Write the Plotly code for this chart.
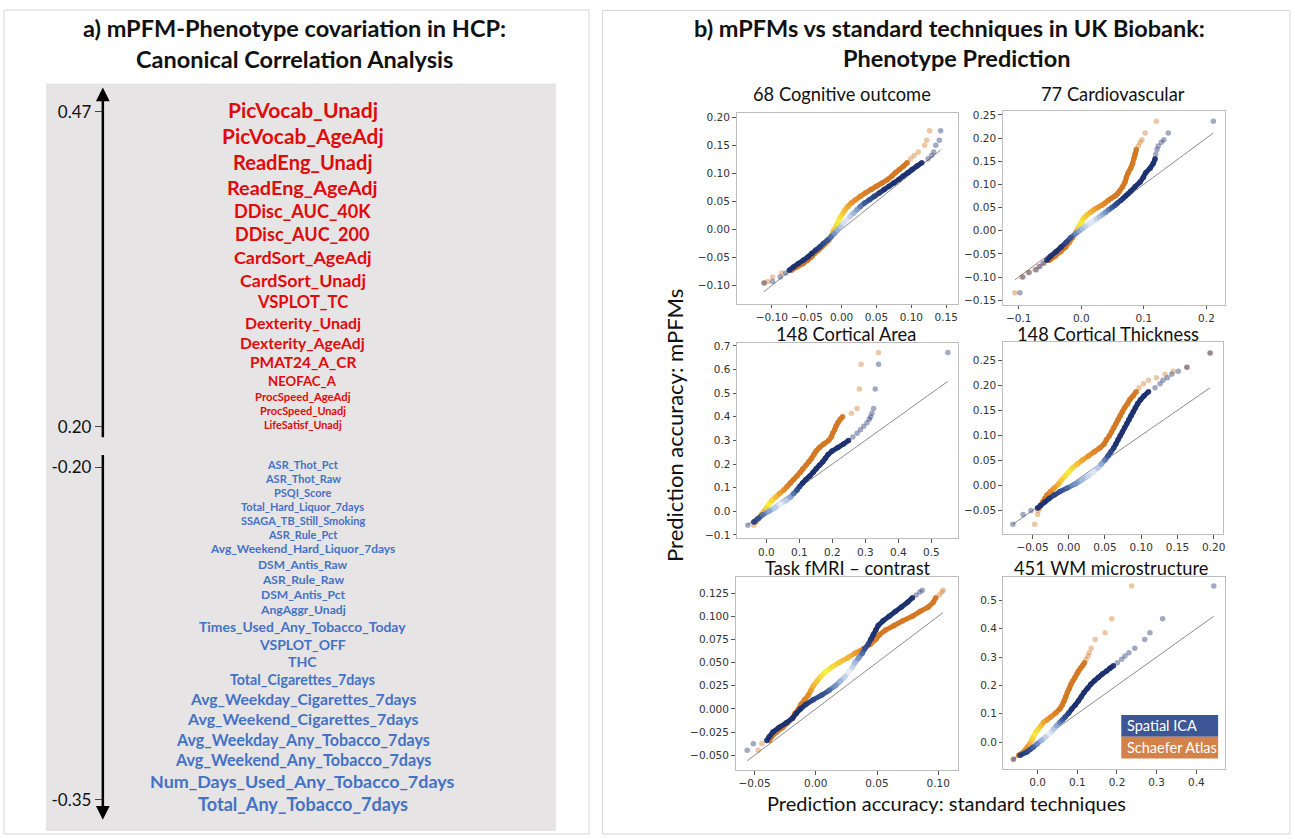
import plotly.graph_objects as go

W, H = 1295, 839

# ---------------- Panel a: CCA phenotype loadings ----------------
pos_names = ["PicVocab_Unadj", "PicVocab_AgeAdj", "ReadEng_Unadj", "ReadEng_AgeAdj",
             "DDisc_AUC_40K", "DDisc_AUC_200", "CardSort_AgeAdj", "CardSort_Unadj",
             "VSPLOT_TC", "Dexterity_Unadj", "Dexterity_AgeAdj", "PMAT24_A_CR",
             "NEOFAC_A", "ProcSpeed_AgeAdj", "ProcSpeed_Unadj", "LifeSatisf_Unadj"]
pos_r = [0.470, 0.465, 0.444, 0.439, 0.393, 0.392, 0.388, 0.387,
         0.354, 0.334, 0.329, 0.323, 0.264, 0.213, 0.205, 0.200]
neg_names = ["ASR_Thot_Pct", "ASR_Thot_Raw", "PSQI_Score", "Total_Hard_Liquor_7days",
             "SSAGA_TB_Still_Smoking", "ASR_Rule_Pct", "Avg_Weekend_Hard_Liquor_7days",
             "DSM_Antis_Raw", "ASR_Rule_Raw", "DSM_Antis_Pct", "AngAggr_Unadj",
             "Times_Used_Any_Tobacco_Today", "VSPLOT_OFF", "THC", "Total_Cigarettes_7days",
             "Avg_Weekday_Cigarettes_7days", "Avg_Weekend_Cigarettes_7days",
             "Avg_Weekday_Any_Tobacco_7days", "Avg_Weekend_Any_Tobacco_7days",
             "Num_Days_Used_Any_Tobacco_7days", "Total_Any_Tobacco_7days"]
neg_r = [-0.200, -0.200, -0.200, -0.200, -0.200, -0.200, -0.221, -0.221, -0.223, -0.223,
         -0.225, -0.263, -0.265, -0.267, -0.269, -0.301, -0.307, -0.309, -0.311, -0.349, -0.353]
pos_ticks = [0.47, 0.20]
neg_ticks = [-0.20, -0.35]

# ---------------- Panel b: QQ of prediction accuracies ----------------
series_names = ["Spatial ICA", "Schaefer Atlas"]
panel_titles = ["68 Cognitive outcome", "77 Cardiovascular", "148 Cortical Area",
                "148 Cortical Thickness", "Task fMRI \u2013 contrast", "451 WM microstructure"]

cog_mpfm = [-0.0957, -0.093, -0.085, -0.078, -0.073, -0.067, -0.061, -0.055, -0.049, -0.043,
            -0.037, -0.031, -0.025, -0.019, -0.013, -0.007, -0.001, 0.005, 0.011, 0.017,
            0.023, 0.029, 0.035, 0.041, 0.047, 0.053, 0.059, 0.065, 0.071, 0.077,
            0.083, 0.089, 0.095, 0.101, 0.107, 0.113, 0.119, 0.126, 0.132, 0.138,
            0.150, 0.159, 0.176]
cog_ica = [-0.1115, -0.099, -0.088, -0.080, -0.075, -0.069, -0.062, -0.055, -0.048, -0.043,
           -0.037, -0.031, -0.026, -0.020, -0.015, -0.010, -0.006, -0.001, 0.003, 0.008,
           0.012, 0.017, 0.022, 0.027, 0.033, 0.040, 0.047, 0.054, 0.061, 0.068,
           0.075, 0.082, 0.088, 0.095, 0.101, 0.108, 0.115, 0.124, 0.129, 0.132,
           0.135, 0.140, 0.142]
cog_schaefer = [-0.1105, -0.106, -0.099, -0.086, -0.072, -0.064, -0.055, -0.049, -0.043, -0.039,
                -0.033, -0.028, -0.023, -0.018, -0.015, -0.013, -0.011, -0.008, -0.006, -0.004,
                -0.001, 0.002, 0.005, 0.009, 0.014, 0.020, 0.027, 0.034, 0.042, 0.050,
                0.058, 0.066, 0.072, 0.077, 0.083, 0.089, 0.094, 0.099, 0.104, 0.110,
                0.119, 0.122, 0.126]

cv_mpfm = [-0.134, -0.100, -0.090, -0.084, -0.077, -0.070, -0.064, -0.055, -0.045, -0.035,
           -0.025, -0.015, -0.005, 0.000, 0.005, 0.010, 0.015, 0.020, 0.025, 0.030,
           0.035, 0.040, 0.045, 0.050, 0.055, 0.060, 0.065, 0.070, 0.075, 0.080,
           0.085, 0.095, 0.105, 0.115, 0.125, 0.135, 0.145, 0.155, 0.165, 0.175,
           0.183, 0.191, 0.196, 0.211, 0.236]
cv_ica = [-0.098, -0.093, -0.083, -0.072, -0.066, -0.061, -0.055, -0.049, -0.040, -0.032,
          -0.024, -0.017, -0.008, -0.003, 0.002, 0.007, 0.013, 0.018, 0.024, 0.029,
          0.034, 0.039, 0.044, 0.049, 0.054, 0.058, 0.063, 0.067, 0.071, 0.075,
          0.079, 0.086, 0.094, 0.099, 0.103, 0.110, 0.115, 0.118, 0.119, 0.121,
          0.123, 0.128, 0.132, 0.139, 0.211]
cv_schaefer = [-0.106, -0.095, -0.085, -0.074, -0.068, -0.059, -0.051, -0.042, -0.033, -0.025,
               -0.019, -0.014, -0.009, -0.007, -0.005, -0.003, -0.001, 0.001, 0.003, 0.006,
               0.010, 0.015, 0.020, 0.026, 0.033, 0.038, 0.043, 0.048, 0.054, 0.058,
               0.061, 0.066, 0.070, 0.072, 0.075, 0.079, 0.082, 0.084, 0.086, 0.088,
               0.091, 0.094, 0.097, 0.102, 0.120]

area_mpfm = [-0.059, -0.045, -0.030, -0.015, 0.000, 0.015, 0.030, 0.045, 0.060, 0.075,
             0.090, 0.105, 0.120, 0.135, 0.150, 0.165, 0.180, 0.195, 0.210, 0.225,
             0.240, 0.255, 0.270, 0.285, 0.300, 0.315, 0.330, 0.345, 0.360, 0.375,
             0.390, 0.400, 0.415, 0.435, 0.518, 0.622, 0.672]
area_ica = [-0.056, -0.038, -0.025, -0.011, 0.008, 0.026, 0.043, 0.060, 0.073, 0.083,
            0.093, 0.101, 0.110, 0.120, 0.132, 0.142, 0.151, 0.161, 0.171, 0.179,
            0.187, 0.199, 0.217, 0.234, 0.249, 0.262, 0.275, 0.285, 0.295, 0.305,
            0.312, 0.316, 0.320, 0.325, 0.330, 0.340, 0.550]
area_schaefer = [-0.038, -0.033, -0.023, -0.015, -0.007, 0.001, 0.008, 0.016, 0.028, 0.040,
                 0.053, 0.063, 0.073, 0.083, 0.093, 0.103, 0.111, 0.120, 0.129, 0.137,
                 0.144, 0.151, 0.161, 0.174, 0.189, 0.197, 0.201, 0.207, 0.211, 0.217,
                 0.224, 0.231, 0.258, 0.275, 0.282, 0.287, 0.340]

thick_mpfm = [-0.077, -0.058, -0.050, -0.045, -0.040, -0.033, -0.026, -0.019, -0.012, -0.005,
              0.003, 0.011, 0.019, 0.027, 0.035, 0.043, 0.051, 0.059, 0.067, 0.075,
              0.083, 0.091, 0.099, 0.107, 0.115, 0.123, 0.131, 0.139, 0.147, 0.155,
              0.163, 0.171, 0.179, 0.187, 0.195, 0.203, 0.210, 0.215, 0.222, 0.228,
              0.236, 0.264]
thick_ica = [-0.077, -0.063, -0.052, -0.043, -0.039, -0.033, -0.027, -0.020, -0.012, -0.002,
             0.009, 0.018, 0.027, 0.034, 0.040, 0.045, 0.050, 0.054, 0.058, 0.062,
             0.065, 0.068, 0.071, 0.074, 0.077, 0.080, 0.083, 0.086, 0.089, 0.092,
             0.095, 0.099, 0.104, 0.110, 0.119, 0.126, 0.130, 0.136, 0.142, 0.151,
             0.163, 0.195]
thick_schaefer = [-0.047, -0.043, -0.042, -0.041, -0.039, -0.036, -0.033, -0.030, -0.025, -0.020,
                  -0.014, -0.010, -0.005, 0.000, 0.005, 0.012, 0.019, 0.027, 0.035, 0.043,
                  0.049, 0.052, 0.056, 0.059, 0.062, 0.065, 0.068, 0.071, 0.074, 0.077,
                  0.081, 0.084, 0.089, 0.093, 0.097, 0.103, 0.110, 0.121, 0.133, 0.144,
                  0.163, 0.195]

task_mpfm = [-0.0446, -0.0375, -0.034, -0.030, -0.025, -0.020, -0.015, -0.010, -0.005, 0.000,
             0.005, 0.010, 0.015, 0.020, 0.025, 0.030, 0.035, 0.040, 0.045, 0.050,
             0.055, 0.060, 0.065, 0.070, 0.075, 0.080, 0.085, 0.090, 0.095, 0.100,
             0.105, 0.110, 0.115, 0.120, 0.123, 0.126, 0.128]
task_ica = [-0.056, -0.051, -0.040, -0.038, -0.035, -0.030, -0.024, -0.019, -0.016, -0.0125,
            -0.008, -0.002, 0.005, 0.011, 0.016, 0.020, 0.024, 0.027, 0.030, 0.032,
            0.035, 0.038, 0.040, 0.043, 0.045, 0.047, 0.049, 0.051, 0.055, 0.060,
            0.065, 0.070, 0.075, 0.079, 0.082, 0.085, 0.087]
task_schaefer = [-0.047, -0.044, -0.038, -0.036, -0.032, -0.027, -0.023, -0.019, -0.017, -0.014,
                 -0.012, -0.009, -0.006, -0.004, -0.002, 0.001, 0.004, 0.008, 0.013, 0.019,
                 0.026, 0.032, 0.039, 0.045, 0.049, 0.052, 0.057, 0.064, 0.071, 0.079,
                 0.085, 0.092, 0.096, 0.098, 0.101, 0.103, 0.104]

wm_mpfm = [-0.061, -0.047, -0.035, -0.026, -0.018, -0.006, 0.006, 0.018, 0.029, 0.038,
           0.047, 0.058, 0.070, 0.079, 0.088, 0.102, 0.117, 0.131, 0.146, 0.160,
           0.175, 0.190, 0.204, 0.216, 0.228, 0.240, 0.251, 0.260, 0.269, 0.280,
           0.292, 0.304, 0.315, 0.331, 0.362, 0.386, 0.435, 0.551]
wm_ica = [-0.061, -0.044, -0.027, -0.019, -0.011, -0.001, 0.010, 0.020, 0.030, 0.036,
          0.041, 0.048, 0.056, 0.063, 0.069, 0.078, 0.086, 0.095, 0.103, 0.110,
          0.117, 0.126, 0.134, 0.143, 0.153, 0.163, 0.174, 0.182, 0.191, 0.201,
          0.212, 0.220, 0.230, 0.245, 0.270, 0.283, 0.315, 0.444]
wm_schaefer = [-0.061, -0.048, -0.036, -0.030, -0.026, -0.020, -0.015, -0.011, -0.007, -0.003,
               0.002, 0.009, 0.015, 0.024, 0.033, 0.045, 0.056, 0.062, 0.067, 0.071,
               0.075, 0.080, 0.084, 0.089, 0.094, 0.099, 0.103, 0.108, 0.113, 0.118,
               0.122, 0.127, 0.130, 0.135, 0.145, 0.170, 0.187, 0.237]

xtick_vals = [[-0.10, -0.05, 0.00, 0.05, 0.10, 0.15], [-0.1, 0.0, 0.1, 0.2],
              [0.0, 0.1, 0.2, 0.3, 0.4, 0.5], [-0.05, 0.00, 0.05, 0.10, 0.15, 0.20],
              [-0.05, 0.00, 0.05, 0.10], [0.0, 0.1, 0.2, 0.3, 0.4]]
ytick_vals = [[-0.10, -0.05, 0.00, 0.05, 0.10, 0.15, 0.20],
              [-0.15, -0.10, -0.05, 0.00, 0.05, 0.10, 0.15, 0.20, 0.25],
              [-0.1, 0.0, 0.1, 0.2, 0.3, 0.4, 0.5, 0.6, 0.7],
              [-0.05, 0.00, 0.05, 0.10, 0.15, 0.20, 0.25],
              [-0.050, -0.025, 0.000, 0.025, 0.050, 0.075, 0.100, 0.125],
              [0.0, 0.1, 0.2, 0.3, 0.4, 0.5]]

panel_data = [(cog_mpfm, cog_ica, cog_schaefer), (cv_mpfm, cv_ica, cv_schaefer),
              (area_mpfm, area_ica, area_schaefer), (thick_mpfm, thick_ica, thick_schaefer),
              (task_mpfm, task_ica, task_schaefer), (wm_mpfm, wm_ica, wm_schaefer)]

# ---------------- styling (layout only) ----------------
frames = [(737.7, 109.3, 959.3, 301.7), (1004.3, 107.3, 1226.7, 302.7),
          (738.3, 341.7, 959.3, 538.3), (1004.3, 340.7, 1225.0, 534.0),
          (736.7, 577.3, 959.3, 771.7), (1005.0, 577.3, 1226.7, 770.7)]
xranges = [[-0.1506, 0.1666], [-0.1254, 0.2293], [-0.0883, 0.5801],
           [-0.0910, 0.2129], [-0.0655, 0.1160], [-0.0862, 0.4718]]
yranges = [[-0.1324, 0.2086], [-0.1593, 0.2593], [-0.1148, 0.7112],
           [-0.0970, 0.2856], [-0.0661, 0.1421], [-0.0958, 0.5818]]
xfmt = [".2f", ".1f", ".1f", ".2f", ".2f", ".1f"]
yfmt = [".2f", ".2f", ".1f", ".2f", ".3f", ".1f"]
title_pos = [(843, 91), (1115, 91), (847, 332), (1110, 332), (849, 568.5), (1113, 568.5)]
glow = [(0.015, 0.055), (0.018, 0.055), (0.03, 0.09), (0.025, 0.055), (0.04, 0.038), (0.03, 0.085)]
# (ICA, Schaefer) y-extent of the densely populated part of each curve
dense = [((-0.075, 0.121), (-0.075, 0.121)), ((-0.066, 0.160), (-0.066, 0.178)),
         ((-0.050, 0.300), (-0.050, 0.405)), ((-0.047, 0.190), (-0.047, 0.190)),
         ((-0.036, 0.121), (-0.036, 0.121)), ((-0.050, 0.270), (-0.050, 0.285))]

BLUE_STOPS = [(0.0, (232, 238, 248)), (0.3, (150, 176, 216)), (0.6, (56, 86, 152)),
              (1.0, (30, 50, 112))]
ORANGE_STOPS = [(0.0, (247, 240, 62)), (0.3, (244, 196, 58)), (0.6, (232, 145, 45)),
                (1.0, (212, 120, 36))]


def ramp(stops, t):
    t = max(0.0, min(1.0, t))
    for (t0, c0), (t1, c1) in zip(stops[:-1], stops[1:]):
        if t <= t1:
            f = (t - t0) / (t1 - t0)
            return tuple(c0[k] + f * (c1[k] - c0[k]) for k in range(3))
    return stops[-1][1]


def px(x):
    return x / W


def py(y):
    return 1 - y / H


def rgba(c, a):
    return f"rgba({c[0]:.0f},{c[1]:.0f},{c[2]:.0f},{a})"


fig = go.Figure()
layout = dict(width=W, height=H, margin=dict(l=0, r=0, t=0, b=0), autosize=False,
              paper_bgcolor="white", plot_bgcolor="rgba(0,0,0,0)", showlegend=False)
shapes = []
annotations = []

TICKFONT = dict(family="DejaVu Sans", size=10.5, color="#333333")

for i in range(6):
    n = i + 1
    xa = "xaxis" if n == 1 else f"xaxis{n}"
    ya = "yaxis" if n == 1 else f"yaxis{n}"
    xr = "x" if n == 1 else f"x{n}"
    yr = "y" if n == 1 else f"y{n}"
    x0, y0, x1, y1 = frames[i]
    common = dict(showline=True, mirror=True, linecolor="#bdbdbd", linewidth=1,
                  ticks="outside", ticklen=3.5, tickcolor="#555555", tickwidth=1,
                  showgrid=False, zeroline=False, tickfont=TICKFONT, fixedrange=True)
    layout[xa] = dict(domain=[px(x0), px(x1)], range=xranges[i], anchor=yr,
                      tickvals=xtick_vals[i], tickformat=xfmt[i], **common)
    layout[ya] = dict(domain=[py(y1), py(y0)], range=yranges[i], anchor=xr,
                      tickvals=ytick_vals[i], tickformat=yfmt[i], **common)

    mpfm, ica, sch = panel_data[i]
    allx = ica + sch
    lo, hi = min(allx), max(allx)
    fig.add_trace(go.Scatter(x=[lo, hi], y=[lo, hi], mode="lines", xaxis=xr, yaxis=yr,
                             line=dict(color="#8c8c8c", width=1), hoverinfo="skip"))
    gc, gw = glow[i]
    d_ica, d_sch = dense[i]
    for xs, stops, name, (dlo, dhi) in ((sch, ORANGE_STOPS, series_names[1], d_sch),
                                        (ica, BLUE_STOPS, series_names[0], d_ica)):
        ts = [abs(yv - gc) / gw for yv in mpfm]
        inside = [dlo <= yv <= dhi for yv in mpfm]
        groups = {}
        for k in range(len(mpfm) - 1):
            if inside[k] and inside[k + 1]:
                b = round(min(1.0, (ts[k] + ts[k + 1]) / 2) * 20) / 20
                gx, gy = groups.setdefault(b, ([], []))
                gx += [xs[k], xs[k + 1], None]
                gy += [mpfm[k], mpfm[k + 1], None]
        for b, (gx, gy) in sorted(groups.items(), reverse=True):
            fig.add_trace(go.Scatter(x=gx, y=gy, mode="lines", xaxis=xr, yaxis=yr,
                                     line=dict(color=rgba(ramp(stops, b), 1), width=5),
                                     hoverinfo="skip", connectgaps=False))
        cols = [rgba(ramp(stops, t), 0.95 if ins else 0.42) for t, ins in zip(ts, inside)]
        fig.add_trace(go.Scatter(x=xs, y=mpfm, mode="markers", name=name, xaxis=xr, yaxis=yr,
                                 marker=dict(color=cols, size=5.5, line=dict(width=0))))
    tx, ty = title_pos[i]
    annotations.append(dict(text=panel_titles[i], x=px(tx), y=py(ty), xref="paper", yref="paper",
                            showarrow=False, xanchor="center", yanchor="middle",
                            font=dict(family="Lato", size=18.3, color="#111111")))

# ---------------- panel a axes ----------------
layout["xaxis7"] = dict(domain=[px(103), px(560)], range=[0, 1], visible=False, anchor="y7",
                        fixedrange=True)
axa = dict(showline=False, ticks="outside", ticklen=7, tickcolor="#444444", tickwidth=1,
           showgrid=False, zeroline=False, anchor="x7", fixedrange=True,
           tickfont=dict(family="Lato", size=17, color="#111111"))
layout["yaxis7"] = dict(domain=[py(438), py(84)], range=[0.1895, 0.491],
                        tickvals=pos_ticks, ticktext=[f"{v:.2f}" for v in pos_ticks], **axa)
layout["yaxis8"] = dict(domain=[py(821.7), py(452.7)], range=[-0.359, -0.1937],
                        tickvals=neg_ticks, ticktext=[f"{v:.2f}" for v in neg_ticks], **axa)
fig.add_trace(go.Scatter(x=[0.5], y=[0.3], xaxis="x7", yaxis="y7", mode="markers",
                         marker=dict(opacity=0), hoverinfo="skip"))
fig.add_trace(go.Scatter(x=[0.5], y=[-0.3], xaxis="x7", yaxis="y8", mode="markers",
                         marker=dict(opacity=0), hoverinfo="skip"))

annotations.append(dict(x=0, y=0.491, xref="x7", yref="y7", ax=0, ay=0.1895, axref="x7",
                        ayref="y7", text="", showarrow=True, arrowhead=2, arrowsize=1.1,
                        arrowwidth=2.5, arrowcolor="black", standoff=0))
annotations.append(dict(x=0, y=-0.359, xref="x7", yref="y8", ax=0, ay=-0.1937, axref="x7",
                        ayref="y8", text="", showarrow=True, arrowhead=2, arrowsize=1.1,
                        arrowwidth=2.5, arrowcolor="black", standoff=0))

FS = 0.98


def place_labels(names, rs, yref, smin, smax, color):
    mags = [abs(r) for r in rs]
    rmin, rmax = min(mags), max(mags)
    sizes = [smin + (m - rmin) / (rmax - rmin) * (smax - smin) for m in mags]
    cum = [0.0]
    for a, b in zip(sizes[:-1], sizes[1:]):
        cum.append(cum[-1] + (a + b) / 2)
    for name, s, c in zip(names, sizes, cum):
        yv = rs[0] + (rs[-1] - rs[0]) * c / cum[-1]
        annotations.append(dict(text=f"<b>{name}</b>", x=px(303), y=yv, xref="paper", yref=yref,
                                showarrow=False, xanchor="center", yanchor="middle", yshift=2.5,
                                font=dict(family="Lato", size=s * FS, color=color)))


place_labels(pos_names, pos_r, "y7", 11.0, 21.5, "#e00b0b")
place_labels(neg_names, neg_r, "y8", 11.2, 18.5, "#4472c4")

# ---------------- decorations ----------------
shapes.append(dict(type="rect", xref="paper", yref="paper", x0=px(4), x1=px(590), y0=py(836),
                   y1=py(6), line=dict(color="#d6d6d6", width=1), fillcolor="rgba(0,0,0,0)",
                   layer="below"))
shapes.append(dict(type="rect", xref="paper", yref="paper", x0=px(603.5), x1=px(1292),
                   y0=py(836), y1=py(6.5), line=dict(color="#d6d6d6", width=1),
                   fillcolor="rgba(0,0,0,0)", layer="below"))
shapes.append(dict(type="rect", xref="paper", yref="paper", x0=px(46), x1=px(557), y0=py(833),
                   y1=py(80), line=dict(width=0), fillcolor="#e6e4e5", layer="below"))

TFONT = dict(family="Lato", size=23.5, color="#111111")
for txt, x, y in (("<b>a) mPFM-Phenotype covariation in HCP:</b>", 295, 24),
                  ("<b>Canonical Correlation Analysis</b>", 295, 55),
                  ("<b>b) mPFMs vs standard techniques in UK Biobank:</b>", 951, 24),
                  ("<b>Phenotype Prediction</b>", 958, 54)):
    annotations.append(dict(text=txt, x=px(x), y=py(y), xref="paper", yref="paper",
                            showarrow=False, xanchor="center", yanchor="middle", font=TFONT))

annotations.append(dict(text="Prediction accuracy: mPFMs", x=px(676), y=py(424), xref="paper",
                        yref="paper", showarrow=False, textangle=-90, xanchor="center",
                        yanchor="middle", font=dict(family="Lato", size=22, color="#111111")))
annotations.append(dict(text="Prediction accuracy: standard techniques", x=px(948), y=py(805),
                        xref="paper", yref="paper", showarrow=False, xanchor="center",
                        yanchor="middle", font=dict(family="Lato", size=20, color="#111111")))

# legend boxes
leg_cols = ["#3d5796", "#d4824c"]
for k, (name, col) in enumerate(zip(series_names, leg_cols)):
    top = 716 + 22 * k
    shapes.append(dict(type="rect", xref="paper", yref="paper", x0=px(1123), x1=px(1220),
                       y0=py(top + 22), y1=py(top), line=dict(width=0), fillcolor=col,
                       layer="above"))
    annotations.append(dict(text=name, x=px(1126.5), y=py(top + 11), xref="paper", yref="paper",
                            showarrow=False, xanchor="left", yanchor="middle",
                            font=dict(family="Lato", size=14.5, color="white")))

layout["shapes"] = shapes
layout["annotations"] = annotations
fig.update_layout(**layout)
fig.write_html("out.html")
